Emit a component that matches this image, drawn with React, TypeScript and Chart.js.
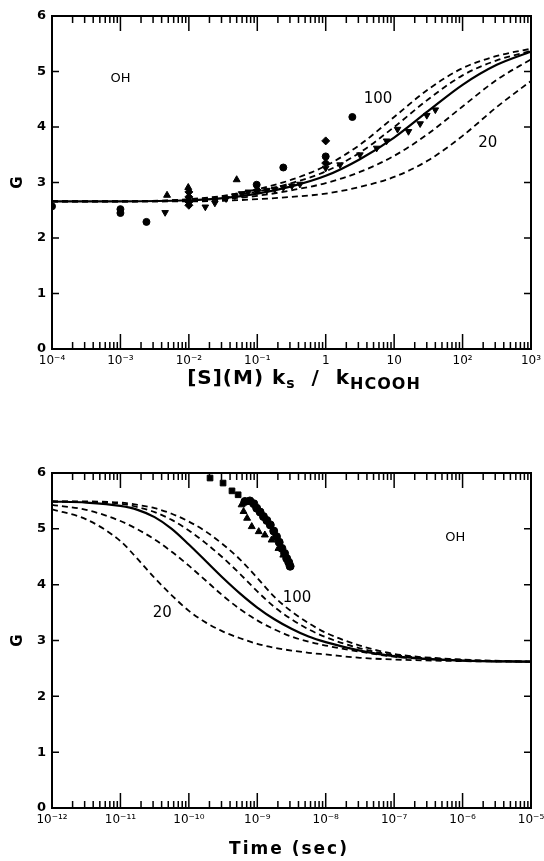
import React, { useEffect, useRef } from "react";
import { Chart, registerables } from "chart.js";

Chart.register(...registerables);

// ---------------- top panel: G vs [S](M) ks/kHCOOH ----------------
const TOP_DECADES = [1e-4, 1e-3, 1e-2, 1e-1, 1, 10, 1e2, 1e3];
const TOP_CURVE_X = [1e-4, 1e-3, 1e-2, 0.0316, 0.1, 0.316, 1, 3.16, 10, 31.6, 100, 316, 1000];
const TOP_SOLID = [2.66, 2.66, 2.68, 2.72, 2.8, 2.93, 3.12, 3.42, 3.81, 4.29, 4.76, 5.12, 5.36];
const TOP_DASH_100 = [2.66, 2.66, 2.7, 2.76, 2.88, 3.05, 3.3, 3.68, 4.18, 4.68, 5.06, 5.28, 5.41];
const TOP_DASH_B = [2.66, 2.66, 2.69, 2.74, 2.84, 2.99, 3.2, 3.54, 4.0, 4.5, 4.93, 5.2, 5.37];
const TOP_DASH_C = [2.66, 2.66, 2.67, 2.7, 2.76, 2.86, 2.99, 3.19, 3.48, 3.88, 4.37, 4.85, 5.22];
const TOP_DASH_20 = [2.66, 2.66, 2.66, 2.67, 2.7, 2.74, 2.8, 2.92, 3.1, 3.4, 3.84, 4.36, 4.83];

const TOP_CIRCLE_X = [1e-4, 1e-3, 1e-3, 2.4e-3, 0.098, 0.24, 1, 2.45];
const TOP_CIRCLE_Y = [2.57, 2.52, 2.45, 2.29, 2.96, 3.27, 3.47, 4.18];
const TOP_TRIUP_X = [4.8e-3, 9.8e-3, 0.05];
const TOP_TRIUP_Y = [2.77, 2.91, 3.05];
const TOP_TRIDOWN_X = [4.5e-3, 0.0174, 0.024, 0.035, 0.047, 0.059, 0.074, 0.138, 0.18, 0.24, 0.32, 0.42, 1, 1.62, 3.16, 5.56, 7.76, 11.2, 16.2, 24, 30, 40];
const TOP_TRIDOWN_Y = [2.46, 2.56, 2.63, 2.71, 2.76, 2.8, 2.83, 2.86, 2.88, 2.91, 2.94, 2.97, 3.26, 3.32, 3.5, 3.62, 3.75, 3.96, 3.92, 4.06, 4.21, 4.31];
const TOP_DIAMOND_X = [0.01, 0.01, 0.01, 0.01, 0.1, 1, 1];
const TOP_DIAMOND_Y = [2.83, 2.74, 2.65, 2.59, 2.86, 3.75, 3.35];

// ---------------- bottom panel: G vs time ----------------
const BOT_DECADES = [1e-12, 1e-11, 1e-10, 1e-9, 1e-8, 1e-7, 1e-6, 1e-5];
const BOT_CURVE_X = [1e-12, 3.16e-12, 1e-11, 1.78e-11, 3.16e-11, 5.62e-11, 1e-10, 1.78e-10, 3.16e-10, 5.62e-10, 1e-9, 1.78e-9, 3.16e-9, 5.62e-9, 1e-8, 3.16e-8, 1e-7, 1e-6, 1e-5];
const BOT_SOLID = [5.49, 5.47, 5.41, 5.34, 5.21, 5.0, 4.72, 4.42, 4.12, 3.84, 3.59, 3.38, 3.21, 3.07, 2.97, 2.82, 2.72, 2.64, 2.62];
const BOT_DASH_100 = [5.49, 5.49, 5.47, 5.43, 5.37, 5.27, 5.13, 4.95, 4.72, 4.45, 4.12, 3.78, 3.52, 3.31, 3.14, 2.91, 2.76, 2.66, 2.62];
const BOT_DASH_B = [5.49, 5.48, 5.45, 5.39, 5.3, 5.16, 4.97, 4.74, 4.48, 4.19, 3.88, 3.6, 3.38, 3.2, 3.06, 2.86, 2.74, 2.65, 2.62];
const BOT_DASH_C = [5.43, 5.34, 5.14, 4.99, 4.81, 4.59, 4.34, 4.07, 3.8, 3.56, 3.36, 3.2, 3.07, 2.98, 2.91, 2.8, 2.71, 2.64, 2.62];
const BOT_DASH_20 = [5.35, 5.17, 4.78, 4.46, 4.12, 3.81, 3.53, 3.32, 3.16, 3.04, 2.94, 2.87, 2.82, 2.78, 2.75, 2.69, 2.66, 2.63, 2.62];

const BOT_SQUARE_X = [2.04e-10, 3.16e-10, 4.27e-10, 5.25e-10];
const BOT_SQUARE_Y = [5.91, 5.82, 5.68, 5.61];
const BOT_CIRCLE_X = [6.6e-10, 7.8e-10, 8.9e-10, 9.8e-10, 1.1e-9, 1.23e-9, 1.38e-9, 1.55e-9, 1.74e-9, 1.91e-9, 2.09e-9, 2.29e-9, 2.51e-9, 2.69e-9, 2.88e-9, 3.02e-9];
const BOT_CIRCLE_Y = [5.49, 5.5, 5.45, 5.37, 5.3, 5.22, 5.15, 5.07, 4.96, 4.86, 4.76, 4.65, 4.56, 4.47, 4.4, 4.33];
const BOT_TRI_X = [5.9e-10, 6.3e-10, 7.1e-10, 8.3e-10, 1.05e-9, 1.29e-9, 1.62e-9, 2.04e-9, 2.4e-9];
const BOT_TRI_Y = [5.43, 5.31, 5.19, 5.04, 4.95, 4.89, 4.8, 4.65, 4.53];

// ---------------- helpers ----------------
const SUP: Record<string, string> = { "-": "\u207B", "0": "\u2070", "1": "\u00B9", "2": "\u00B2", "3": "\u00B3", "4": "\u2074", "5": "\u2075", "6": "\u2076", "7": "\u2077", "8": "\u2078", "9": "\u2079" };
function decadeLabel(v: number): string {
  const e = Math.round(Math.log10(v));
  if (e === 0) return "1";
  if (e === 1) return "10";
  return "10" + String(e).split("").map((c) => SUP[c]).join("");
}
const pts = (xs: number[], ys: number[]) => xs.map((x, i) => ({ x, y: ys[i] }));

const FONT = '"DejaVu Sans", sans-serif';

function curve(label: string, xs: number[], ys: number[], dashed: boolean) {
  return {
    type: "line" as const,
    label,
    data: pts(xs, ys),
    borderColor: "#000",
    borderWidth: dashed ? 1.8 : 2.2,
    borderDash: dashed ? [6, 4] : [],
    pointRadius: 0,
    cubicInterpolationMode: "monotone" as const,
    fill: false,
  };
}
function markers(label: string, xs: number[], ys: number[], style: string, radius: number, rotation = 0) {
  return {
    type: "scatter" as const,
    label,
    data: pts(xs, ys),
    pointStyle: style,
    pointRadius: radius,
    pointRotation: rotation,
    pointBackgroundColor: "#000",
    pointBorderColor: "#000",
    pointBorderWidth: 1,
    showLine: false,
  };
}

const framePlugin = {
  id: "frame",
  afterDatasetsDraw(chart: any, _args: any, opts: any) {
    const { ctx, chartArea: a, scales } = chart;
    const xs = scales.x;
    const ys = scales.y;
    ctx.save();
    ctx.strokeStyle = "#000";
    ctx.lineWidth = 2;
    ctx.strokeRect(a.left, a.top, a.right - a.left, a.bottom - a.top);
    ctx.lineWidth = 1.5;
    ctx.beginPath();
    for (const d of opts.decades) {
      const px = xs.getPixelForValue(d);
      ctx.moveTo(px, a.bottom);
      ctx.lineTo(px, a.bottom - 15);
      ctx.moveTo(px, a.top);
      ctx.lineTo(px, a.top + 15);
      for (let m = 2; m <= 9; m++) {
        const v = d * m;
        if (v > xs.max * 1.0001) break;
        const p = xs.getPixelForValue(v);
        ctx.moveTo(p, a.bottom);
        ctx.lineTo(p, a.bottom - 7);
        ctx.moveTo(p, a.top);
        ctx.lineTo(p, a.top + 7);
      }
    }
    for (let g = 1; g < 6; g++) {
      const py = ys.getPixelForValue(g);
      ctx.moveTo(a.left, py);
      ctx.lineTo(a.left + 7, py);
      ctx.moveTo(a.right, py);
      ctx.lineTo(a.right - 7, py);
    }
    ctx.stroke();

    ctx.fillStyle = "#000";
    ctx.textAlign = "center";
    ctx.textBaseline = "middle";
    for (const t of opts.texts) {
      ctx.font = `${t.weight} ${t.size}px ${FONT}`;
      ctx.fillText(t.text, xs.getPixelForValue(t.x), ys.getPixelForValue(t.y));
    }

    if (opts.richTitle) {
      const rt = opts.richTitle;
      (ctx as any).letterSpacing = rt.spacing;
      const parts = rt.parts;
      const widths = parts.map((p: any) => {
        ctx.font = `bold ${p.size}px ${FONT}`;
        return ctx.measureText(p.text).width;
      });
      const total = widths.reduce((s: number, w: number) => s + w, 0);
      let x = rt.cx - total / 2;
      ctx.textAlign = "left";
      ctx.textBaseline = "alphabetic";
      parts.forEach((p: any, i: number) => {
        ctx.font = `bold ${p.size}px ${FONT}`;
        ctx.fillText(p.text, x, rt.y + p.dy);
        x += widths[i];
      });
      (ctx as any).letterSpacing = "0px";
    }
    ctx.restore();
  },
};

function baseOptions(min: number, max: number, decades: number[], padTop: number, xHeight: number, frame: any) {
  return {
    animation: false,
    responsive: false,
    devicePixelRatio: 1,
    layout: { padding: { left: 0, top: padTop, right: 13, bottom: 0 } },
    plugins: { legend: { display: false }, tooltip: { enabled: false }, frame },
    scales: {
      x: {
        type: "logarithmic",
        min,
        max,
        grid: { display: false, drawTicks: false },
        border: { display: false },
        afterBuildTicks: (s: any) => {
          s.ticks = decades.map((v) => ({ value: v }));
        },
        afterFit: (s: any) => {
          s.height = xHeight;
          s.paddingLeft = 0;
          s.paddingRight = 0;
        },
        ticks: {
          autoSkip: false,
          maxRotation: 0,
          minRotation: 0,
          padding: 5,
          color: "#000",
          font: { family: FONT, size: 12 },
          callback: (v: any) => decadeLabel(Number(v)),
        },
        title: { display: false },
      },
      y: {
        type: "linear",
        min: 0,
        max: 6,
        grid: { display: false, drawTicks: false },
        border: { display: false },
        afterFit: (s: any) => {
          s.width = 52;
          s.paddingTop = 0;
          s.paddingBottom = 0;
        },
        ticks: { stepSize: 1, padding: 6, color: "#000", font: { family: FONT, size: 13, weight: "bold" } },
        title: { display: true, text: "G", color: "#000", font: { family: FONT, size: 15, weight: "bold" }, padding: { top: 9, bottom: 0 } },
      },
    },
  };
}

function topConfig(): any {
  return {
    data: {
      datasets: [
        curve("dashed 100", TOP_CURVE_X, TOP_DASH_100, true),
        curve("dashed b", TOP_CURVE_X, TOP_DASH_B, true),
        curve("solid", TOP_CURVE_X, TOP_SOLID, false),
        curve("dashed c", TOP_CURVE_X, TOP_DASH_C, true),
        curve("dashed 20", TOP_CURVE_X, TOP_DASH_20, true),
        markers("circles", TOP_CIRCLE_X, TOP_CIRCLE_Y, "circle", 3.5),
        markers("triangles up", TOP_TRIUP_X, TOP_TRIUP_Y, "triangle", 4),
        markers("triangles down", TOP_TRIDOWN_X, TOP_TRIDOWN_Y, "triangle", 3.8, 180),
        markers("diamonds", TOP_DIAMOND_X, TOP_DIAMOND_Y, "rectRot", 4),
      ],
    },
    options: baseOptions(1e-4, 1e3, TOP_DECADES, 16, 81, {
      decades: TOP_DECADES,
      texts: [
        { text: "OH", x: 1e-3, y: 4.87, size: 13, weight: "normal" },
        { text: "100", x: 5.8, y: 4.5, size: 15, weight: "normal" },
        { text: "20", x: 234, y: 3.71, size: 15, weight: "normal" },
      ],
      richTitle: {
        cx: 304,
        y: 384,
        spacing: "1px",
        parts: [
          { text: "[S](M) k", size: 20, dy: 0 },
          { text: "s", size: 14, dy: 4 },
          { text: "  /  k", size: 20, dy: 0 },
          { text: "HCOOH", size: 16, dy: 5 },
        ],
      },
    }),
  };
}

function bottomConfig(): any {
  return {
    data: {
      datasets: [
        curve("dashed 100", BOT_CURVE_X, BOT_DASH_100, true),
        curve("dashed b", BOT_CURVE_X, BOT_DASH_B, true),
        curve("solid", BOT_CURVE_X, BOT_SOLID, false),
        curve("dashed c", BOT_CURVE_X, BOT_DASH_C, true),
        curve("dashed 20", BOT_CURVE_X, BOT_DASH_20, true),
        markers("squares", BOT_SQUARE_X, BOT_SQUARE_Y, "rect", 4),
        markers("circles", BOT_CIRCLE_X, BOT_CIRCLE_Y, "circle", 4),
        markers("triangles", BOT_TRI_X, BOT_TRI_Y, "triangle", 4),
      ],
    },
    options: baseOptions(1e-12, 1e-5, BOT_DECADES, 43, 53, {
      decades: BOT_DECADES,
      texts: [
        { text: "OH", x: 7.8e-7, y: 4.85, size: 13, weight: "normal" },
        { text: "100", x: 3.8e-9, y: 3.76, size: 15, weight: "normal" },
        { text: "20", x: 4.1e-11, y: 3.49, size: 15, weight: "normal" },
      ],
      richTitle: {
        cx: 289,
        y: 424,
        spacing: "2px",
        parts: [{ text: "Time (sec)", size: 17, dy: 0 }],
      },
    }),
  };
}

function Panel({ make, top, height }: { make: () => any; top: number; height: number }) {
  const ref = useRef<HTMLCanvasElement>(null);
  useEffect(() => {
    const cfg = make();
    cfg.plugins = [framePlugin];
    const chart = new Chart(ref.current as HTMLCanvasElement, cfg);
    return () => chart.destroy();
  }, []);
  return (
    <canvas
      ref={ref}
      width={544}
      height={height}
      style={{ position: "absolute", left: 0, top, width: 544, height, display: "block" }}
    />
  );
}

export default function App() {
  return (
    <div style={{ position: "absolute", left: 0, top: 0, width: 544, height: 861, background: "#fff" }}>
      <Panel make={topConfig} top={0} height={430} />
      <Panel make={bottomConfig} top={430} height={431} />
    </div>
  );
}
